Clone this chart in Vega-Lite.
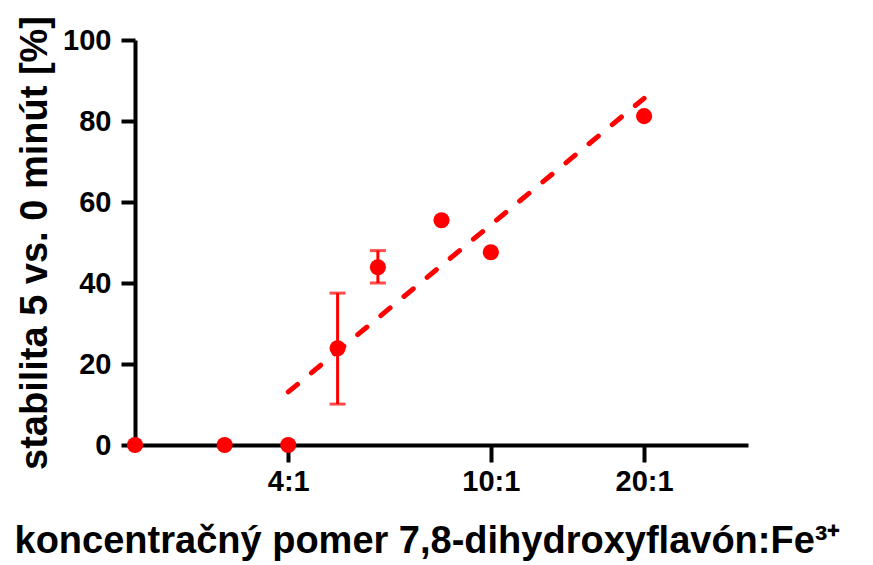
{
  "$schema": "https://vega.github.io/schema/vega-lite/v6.json",
  "autosize": {"type": "none"},
  "width": 613,
  "height": 405,
  "padding": {"left": 135, "top": 40, "right": 125, "bottom": 120},
  "background": "white",
  "config": {
    "view": {"stroke": null},
    "axis": {
      "labelFont": "Liberation Sans",
      "titleFont": "Liberation Sans",
      "labelFontWeight": "bold",
      "titleFontWeight": "bold",
      "labelColor": "black",
      "titleColor": "black",
      "domainColor": "black",
      "tickColor": "black",
      "domainWidth": 4,
      "tickWidth": 4,
      "grid": false
    }
  },
  "datasets": {
    "points": [
      {"ratio": 2, "stabilita": 0},
      {"ratio": 3, "stabilita": 0},
      {"ratio": 4, "stabilita": 0},
      {"ratio": 5, "stabilita": 23.9, "low": 10.1, "high": 37.5},
      {"ratio": 6, "stabilita": 43.9, "low": 40.0, "high": 48.0},
      {"ratio": 8, "stabilita": 55.5},
      {"ratio": 10, "stabilita": 47.6},
      {"ratio": 20, "stabilita": 81.2}
    ],
    "fit": [
      {"ratio": 4, "stabilita": 13.1},
      {"ratio": 20, "stabilita": 85.6}
    ]
  },
  "layer": [
    {
      "data": {"name": "fit"},
      "mark": {"type": "line", "color": "#FF0000", "strokeWidth": 5, "strokeDash": [12, 18], "strokeCap": "round", "clip": false},
      "encoding": {
        "x": {"field": "ratio", "type": "quantitative", "scale": {"type": "log", "domain": [2, 32], "nice": false},
          "axis": {"values": [4, 10, 20], "labelExpr": "datum.value + ':1'", "labelFontSize": 29, "tickSize": 17, "labelPadding": 5,
            "title": "koncentračný pomer 7,8-dihydroxyflavón:Fe³⁺", "titleFontSize": 38, "titlePadding": 26, "titleX": 292}},
        "y": {"field": "stabilita", "type": "quantitative", "scale": {"domain": [0, 100], "nice": false},
          "axis": {"values": [0, 20, 40, 60, 80, 100], "labelFontSize": 29, "tickSize": 14, "labelPadding": 10,
            "title": "stabilita 5 vs. 0 minút [%]", "titleFontSize": 38, "titlePadding": 8}}
      }
    },
    {
      "data": {"name": "points"},
      "mark": {"type": "rule", "color": "#FF0000", "strokeWidth": 3},
      "encoding": {
        "x": {"field": "ratio", "type": "quantitative"},
        "y": {"field": "low", "type": "quantitative"},
        "y2": {"field": "high"}
      }
    },
    {
      "data": {"name": "points"},
      "transform": [{"filter": "isValid(datum.low)"}],
      "mark": {"type": "tick", "color": "#FF0000", "size": 16, "thickness": 3, "orient": "horizontal"},
      "encoding": {
        "x": {"field": "ratio", "type": "quantitative"},
        "y": {"field": "low", "type": "quantitative"}
      }
    },
    {
      "data": {"name": "points"},
      "transform": [{"filter": "isValid(datum.high)"}],
      "mark": {"type": "tick", "color": "#FF0000", "size": 16, "thickness": 3, "orient": "horizontal"},
      "encoding": {
        "x": {"field": "ratio", "type": "quantitative"},
        "y": {"field": "high", "type": "quantitative"}
      }
    },
    {
      "data": {"name": "points"},
      "mark": {"type": "circle", "color": "#FF0000", "opacity": 1, "size": 260, "clip": false},
      "encoding": {
        "x": {"field": "ratio", "type": "quantitative"},
        "y": {"field": "stabilita", "type": "quantitative"}
      }
    }
  ]
}
